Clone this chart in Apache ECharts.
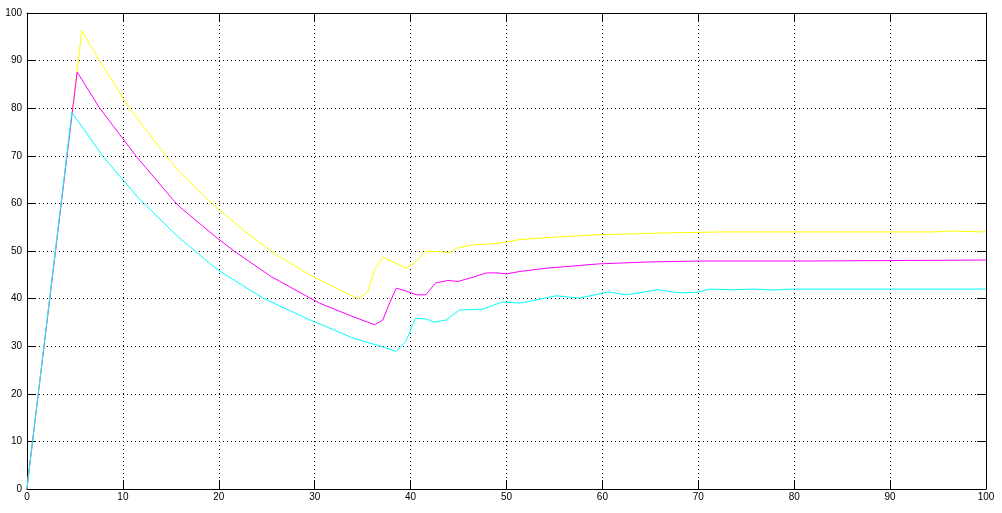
<!DOCTYPE html>
<html>
<head>
<meta charset="utf-8">
<script src="https://cdn.jsdelivr.net/npm/echarts@6/dist/echarts.min.js"></script>
<style>
html,body{margin:0;padding:0;background:#fff;}
#chart{width:1002px;height:513px;}
</style>
</head>
<body>
<div id="chart"></div>
<script>
var xTicks = [0,10,20,30,40,50,60,70,80,90,100];
var yTicks = [0,10,20,30,40,50,60,70,80,90,100];

var yellowData = [[0,0],[0.1,2],[5.72,96.3],[7.49,90.2],[10.69,80.0],[14.52,69.9],[15.9,66.6],[18.86,60.8],[19.84,59.0],[22.5,54.5],[25.48,49.9],[29.8,44.6],[30.5,43.95],[32.6,41.85],[34.6,39.96],[35.55,41.5],[36.25,46.1],[37.1,48.7],[39.56,46.4],[40.4,47.5],[41.6,49.9],[43.0,49.9],[44.1,49.6],[44.8,50.6],[46.5,51.3],[48.6,51.5],[50.0,51.9],[51.4,52.4],[54.9,52.9],[59.4,53.4],[66.7,53.8],[72.2,54.0],[80,54.0],[94.5,54.0],[94.6,54.2],[96.5,54.2],[96.6,54.0],[99.6,54.0],[100,54.2]];

var magentaData = [[0,0],[0.1,2],[5.23,87.6],[7.56,80.06],[11.39,69.9],[15.21,60.8],[15.9,59.3],[19.84,52.7],[21.65,49.9],[25.48,44.6],[29.8,39.8],[30.5,39.05],[34.0,36.2],[36.25,34.5],[37.1,35.5],[37.65,38.3],[38.5,42.2],[39.4,41.7],[40.6,40.8],[41.6,40.8],[42.6,43.3],[43.9,43.8],[44.95,43.6],[46.5,44.5],[47.9,45.4],[49.0,45.4],[50.0,45.2],[51.4,45.7],[54.2,46.4],[59.7,47.3],[64.9,47.7],[70.5,47.9],[81.7,47.9],[81.8,48.1],[100,48.1]];

var cyanData = [[0,0],[0.1,2],[4.68,79.1],[7.91,69.9],[11.63,61.1],[15.9,52.7],[19.84,46.1],[24.6,40.1],[29.3,35.7],[30.5,34.7],[34.0,31.7],[37.5,29.6],[38.5,28.9],[39.5,31.0],[40.5,35.9],[41.6,35.7],[42.5,35.05],[43.7,35.5],[45.1,37.6],[47.55,37.8],[49.6,39.3],[51.4,39.05],[55.2,40.6],[57.6,40.1],[60.6,41.4],[62.5,40.8],[65.8,41.85],[68.1,41.2],[69.8,41.3],[71.2,42.0],[73.6,41.85],[75.7,42.0],[77.8,41.8],[79.8,42.0],[100,42.0]];

var chart = echarts.init(document.getElementById('chart'), null, {renderer:'canvas'});

var labelStyle = {color:'#000', fontFamily:'Liberation Sans, Arial, sans-serif', fontSize:10};
var axisLineStyle = {color:'#000', width:1};
var gridStyle = {color:'#000', width:1, type:[1,3]};

function mkX(pos, main){
  return {
    type:'value', position:pos, min:0, max:100, interval:10,
    axisLine:{show:true, onZero:false, lineStyle:axisLineStyle},
    axisTick:{show:true, inside:true, length:9, lineStyle:axisLineStyle},
    axisLabel:{show:main, margin:3, formatter:function(v){return xTicks.indexOf(v)>=0?String(v):'';}, ...labelStyle},
    splitLine:{show:main, lineStyle:gridStyle}
  };
}
function mkY(pos, main){
  return {
    type:'value', position:pos, min:0, max:100, interval:10,
    axisLine:{show:true, onZero:false, lineStyle:axisLineStyle},
    axisTick:{show:true, inside:true, length:9, lineStyle:axisLineStyle},
    axisLabel:{show:main, margin:5, formatter:function(v){return yTicks.indexOf(v)>=0?String(v):'';}, ...labelStyle},
    splitLine:{show:main, lineStyle:gridStyle}
  };
}

function mkSeries(data, color){
  return {
    type:'line', data:data, xAxisIndex:0, yAxisIndex:0,
    showSymbol:false, symbol:'none', smooth:false,
    lineStyle:{color:color, width:1},
    itemStyle:{color:color},
    emphasis:{disabled:true}
  };
}

chart.setOption({
  animation:false,
  backgroundColor:'#fff',
  grid:{left:27, right:16, top:13, bottom:24, containLabel:false},
  xAxis:[mkX('bottom', true), mkX('top', false)],
  yAxis:[mkY('left', true), mkY('right', false)],
  series:[
    mkSeries(yellowData, '#ffff00'),
    mkSeries(magentaData, '#ff00ff'),
    mkSeries(cyanData, '#00ffff')
  ]
});
</script>
</body>
</html>
